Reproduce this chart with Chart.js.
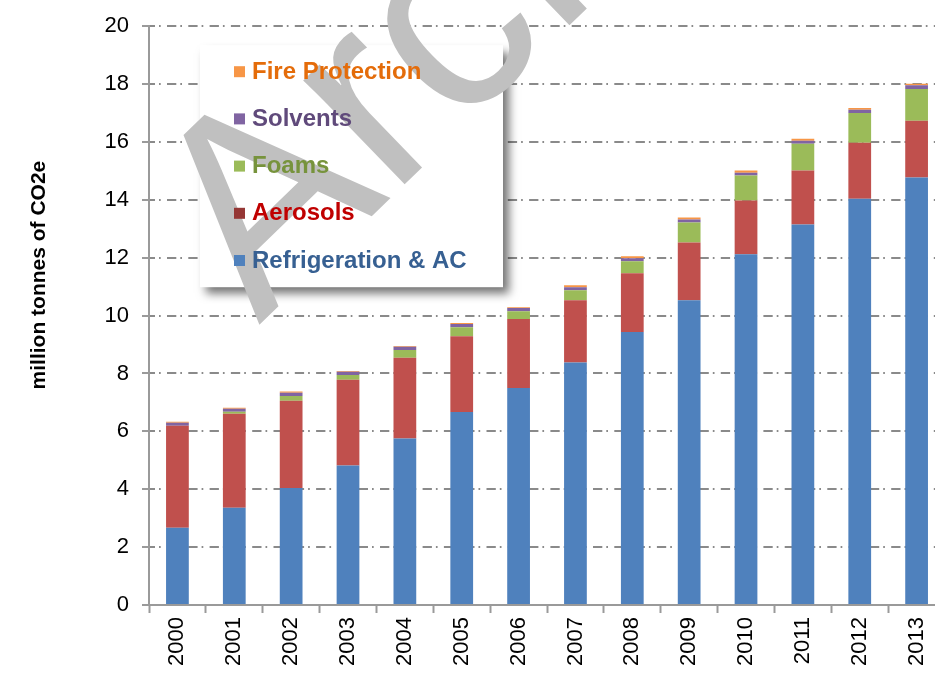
<!DOCTYPE html>
<html>
<head>
<meta charset="utf-8">
<script src="https://cdn.jsdelivr.net/npm/chart.js@4.4.0/dist/chart.umd.min.js"></script>
<style>
  html, body { margin: 0; padding: 0; background: #fff; overflow: hidden; }
  #wrap { position: absolute; left: 0; top: 0; width: 947px; height: 673px; }
</style>
</head>
<body>
<div id="wrap"><canvas id="chart" width="947" height="673"></canvas></div>
<script>
const years = ['2000', '2001', '2002', '2003', '2004', '2005', '2006', '2007', '2008', '2009', '2010', '2011', '2012', '2013'];
const refrigeration = [2.67, 3.36, 4.04, 4.82, 5.75, 6.67, 7.50, 8.38, 9.43, 10.53, 12.12, 13.15, 14.04, 14.77];
const aerosols = [3.52, 3.25, 3.02, 2.96, 2.79, 2.62, 2.38, 2.15, 2.03, 2.00, 1.86, 1.86, 1.93, 1.96];
const foams = [0, 0.07, 0.16, 0.17, 0.27, 0.31, 0.27, 0.35, 0.42, 0.69, 0.86, 0.93, 1.03, 1.10];
const solvents = [0.11, 0.10, 0.11, 0.11, 0.11, 0.11, 0.11, 0.10, 0.10, 0.10, 0.10, 0.10, 0.11, 0.13];
const fireProtection = [0.03, 0.04, 0.05, 0.03, 0.03, 0.03, 0.03, 0.07, 0.07, 0.07, 0.07, 0.07, 0.06, 0.05];
const yTicks = [0, 2, 4, 6, 8, 10, 12, 14, 16, 18, 20];
const yTitle = 'million tonnes of CO2e';
const watermark = 'Archive';

const FONT = '"Liberation Sans", Arial, sans-serif';

function drawStamp(ctx) {
  ctx.save();
  ctx.translate(259, 325);
  ctx.rotate(-44 * Math.PI / 180);
  ctx.font = '275px ' + FONT;
  ctx.fillStyle = '#c0c0c0';
  ctx.fillText(watermark, 0, 0);
  ctx.restore();
}

// legend box floats inside the plot; the grey stamp sits between box and text
const boxLegend = {
  id: 'boxLegend',
  afterDatasetsDraw(chart) {
    const { ctx, chartArea } = chart;
    const x = chartArea.left + 51, y = chartArea.top + 19, w = 303, h = 242;
    ctx.save();
    ctx.shadowColor = 'rgba(0,0,0,0.55)';
    ctx.shadowBlur = 9;
    ctx.shadowOffsetX = 6;
    ctx.shadowOffsetY = 7;
    ctx.fillStyle = '#fff';
    ctx.fillRect(x, y, w, h);
    ctx.restore();

    drawStamp(ctx);

    const items = chart.data.datasets.slice().reverse();
    ctx.save();
    ctx.font = 'bold 24px ' + FONT;
    ctx.textBaseline = 'middle';
    items.forEach((ds, i) => {
      const cy = y + 27 + i * 47.2;
      ctx.fillStyle = ds.markerColor;
      ctx.fillRect(x + 34, cy - 6, 11, 11);
      ctx.fillStyle = ds.textColor;
      ctx.fillText(ds.label, x + 52, cy);
    });
    ctx.restore();
  }
};

const axisTitle = {
  id: 'axisTitle',
  afterDraw(chart) {
    const { ctx, chartArea } = chart;
    ctx.save();
    ctx.translate(39, chartArea.top + chartArea.height * 0.43);
    ctx.rotate(-Math.PI / 2);
    ctx.font = 'bold 21px ' + FONT;
    ctx.textAlign = 'center';
    ctx.textBaseline = 'middle';
    ctx.fillStyle = '#000';
    ctx.fillText(yTitle, 0, 0);
    ctx.restore();
  }
};

const tickFont = { family: FONT, size: 22 };

new Chart(document.getElementById('chart'), {
  type: 'bar',
  data: {
    labels: years,
    datasets: [
      { label: 'Refrigeration & AC', data: refrigeration, backgroundColor: '#4F81BD', markerColor: '#4F81BD', textColor: '#376092' },
      { label: 'Aerosols', data: aerosols, backgroundColor: '#C0504D', markerColor: '#953735', textColor: '#C00000' },
      { label: 'Foams', data: foams, backgroundColor: '#9BBB59', markerColor: '#9BBB59', textColor: '#77933C' },
      { label: 'Solvents', data: solvents, backgroundColor: '#8064A2', markerColor: '#8064A2', textColor: '#604A7B' },
      { label: 'Fire Protection', data: fireProtection, backgroundColor: '#F79646', markerColor: '#F79646', textColor: '#E46C0A' }
    ]
  },
  options: {
    responsive: false,
    animation: false,
    barPercentage: 0.4,
    categoryPercentage: 1.0,
    layout: { padding: { left: 0, right: 0, top: 24, bottom: 0 } },
    plugins: { legend: { display: false }, tooltip: { enabled: false } },
    scales: {
      x: {
        stacked: true,
        grid: { drawOnChartArea: false, drawTicks: true, tickLength: 8, tickColor: '#9a9a9a', tickWidth: 2, offset: true },
        border: { display: true, color: '#9a9a9a', width: 2 },
        ticks: { autoSkip: false, maxRotation: 90, minRotation: 90, padding: 4, color: '#000', font: tickFont },
        afterFit: s => { s.height = 68; }
      },
      y: {
        stacked: true,
        min: yTicks[0],
        max: yTicks[yTicks.length - 1],
        afterBuildTicks: s => { s.ticks = yTicks.map(v => ({ value: v })); },
        ticks: { padding: 13, color: '#000', font: tickFont },
        grid: { color: '#8a8a8a', lineWidth: 2, tickColor: '#9a9a9a', tickWidth: 2, tickLength: 7, tickBorderDash: [] },
        border: { display: true, color: '#9a9a9a', width: 2, dash: [9.3, 4, 1.7, 6.3], dashOffset: 4.3 },
        afterFit: s => { s.width = 149; }
      }
    }
  },
  plugins: [boxLegend, axisTitle]
});
</script>
</body>
</html>
